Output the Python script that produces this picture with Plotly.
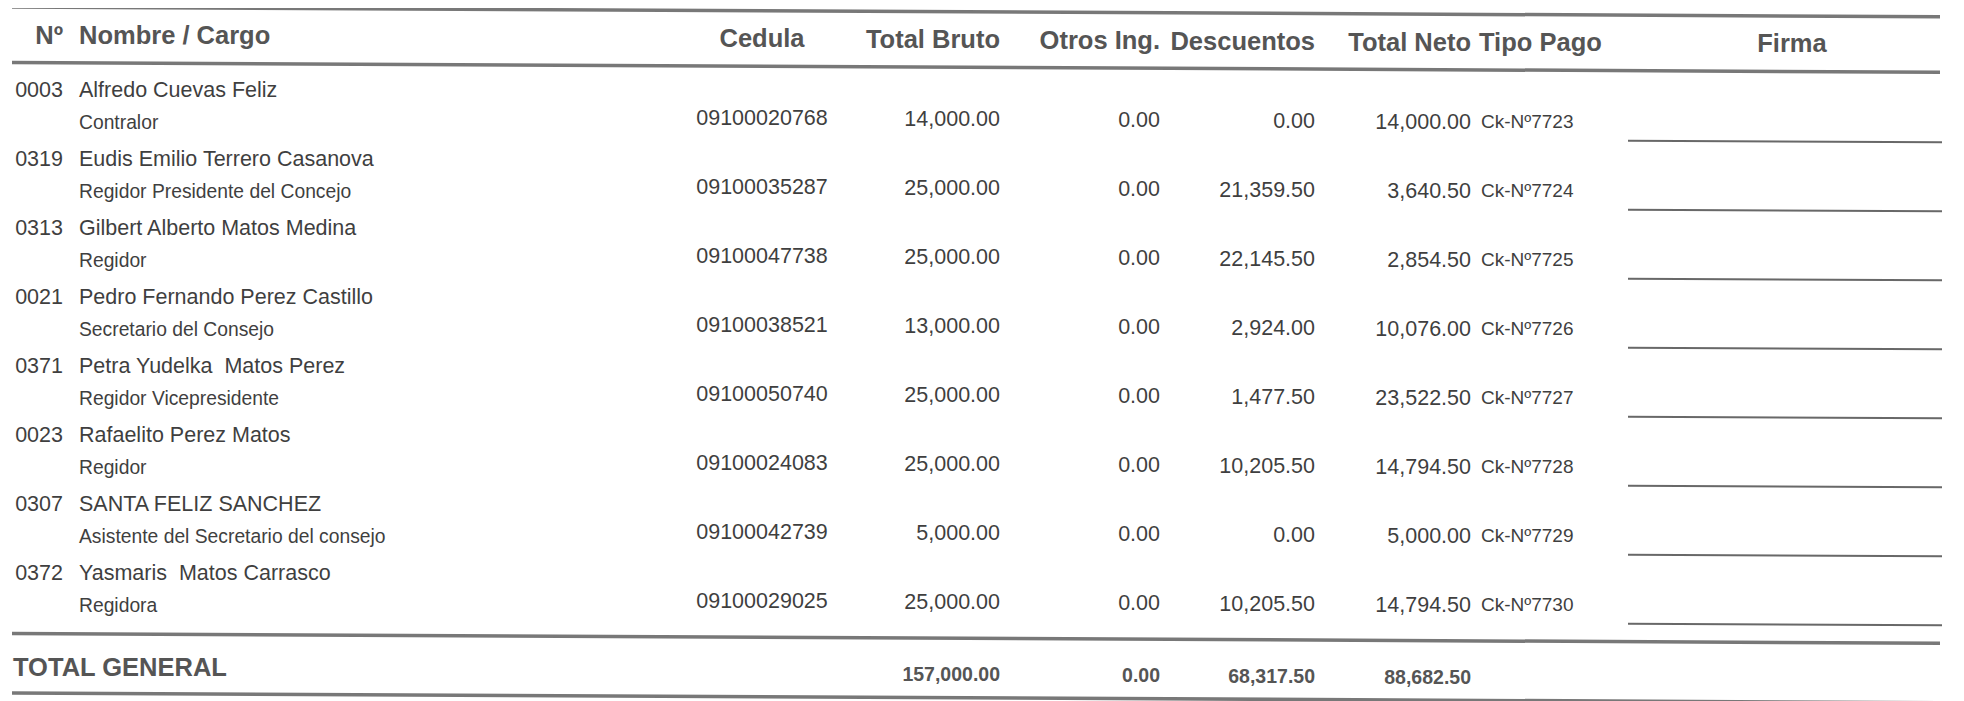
import plotly.graph_objects as go

# ---------------- data ----------------
numeros = ["0003", "0319", "0313", "0021", "0371", "0023", "0307", "0372"]
nombres = [
    "Alfredo Cuevas Feliz",
    "Eudis Emilio Terrero Casanova",
    "Gilbert Alberto Matos Medina",
    "Pedro Fernando Perez Castillo",
    "Petra Yudelka\u00a0 Matos Perez",
    "Rafaelito Perez Matos",
    "SANTA FELIZ SANCHEZ",
    "Yasmaris\u00a0 Matos Carrasco",
]
cargos = [
    "Contralor",
    "Regidor Presidente del Concejo",
    "Regidor",
    "Secretario del Consejo",
    "Regidor Vicepresidente",
    "Regidor",
    "Asistente del Secretario del consejo",
    "Regidora",
]
cedulas = ["09100020768", "09100035287", "09100047738", "09100038521",
           "09100050740", "09100024083", "09100042739", "09100029025"]
total_bruto = [14000.00, 25000.00, 25000.00, 13000.00, 25000.00, 25000.00, 5000.00, 25000.00]
otros_ing = [0.00, 0.00, 0.00, 0.00, 0.00, 0.00, 0.00, 0.00]
descuentos = [0.00, 21359.50, 22145.50, 2924.00, 1477.50, 10205.50, 0.00, 10205.50]
total_neto = [14000.00, 3640.50, 2854.50, 10076.00, 23522.50, 14794.50, 5000.00, 14794.50]
tipo_pago = ["Ck-N\u00ba7723", "Ck-N\u00ba7724", "Ck-N\u00ba7725", "Ck-N\u00ba7726",
             "Ck-N\u00ba7727", "Ck-N\u00ba7728", "Ck-N\u00ba7729", "Ck-N\u00ba7730"]
encabezados = ["N\u00ba", "Nombre / Cargo", "Cedula", "Total Bruto", "Otros Ing.",
               "Descuentos", "Total Neto", "Tipo Pago", "Firma"]
etiqueta_total = "TOTAL GENERAL"

# ---------------- layout constants ----------------
W, H = 1964, 701
PAGE_OFF = 8             # default body margin of the html page
SLOPE = 0.005            # slight skew of the scanned page
ROW0, ROW_STEP = 91.0, 69.0
NUM_OFF, CARGO_OFF, SIG_OFF = 25.0, 32.5, 41.5
HEADER_Y = 37.0
RULES = [7.0, 62.5, 633.5, 693.0]
TOTAL_Y = 669.5

X_NUM, X_NAME, X_CED = 63, 79, 762
X_BRUTO, X_OTROS, X_DESC, X_NETO, X_TIPO, X_FIRMA = 1000, 1160, 1315, 1471, 1479, 1792
X_TOTAL = 13
SIG_X0, SIG_X1 = 1628, 1942

SANS = "Liberation Sans, Arial, Helvetica, sans-serif"
TXT = "#3f3f3f"
HDR = "#555555"
RULE = "#787878"


def sk(x, y):
    return y + SLOPE * x


def fmt(v):
    return f"{v:,.2f}"


n = len(numeros)
rows = [ROW0 + i * ROW_STEP for i in range(n)]

fig = go.Figure()


def add_text(xs, ys, texts, pos, size, color=TXT, weight="normal"):
    fig.add_trace(go.Scatter(
        x=xs, y=[sk(x, y) for x, y in zip(xs, ys)], text=texts,
        mode="text", textposition=pos, hoverinfo="skip", showlegend=False,
        textfont=dict(family=SANS, size=size, color=color, weight=weight),
        cliponaxis=False,
    ))


# header
hdr_x = [X_NUM, X_NAME, X_CED, X_BRUTO, X_OTROS, X_DESC, X_NETO, X_TIPO, X_FIRMA]
hdr_pos = ["middle left", "middle right", "middle center", "middle left", "middle left",
           "middle left", "middle left", "middle right", "middle center"]
for hx, ht, hp in zip(hdr_x, encabezados, hdr_pos):
    add_text([hx], [HEADER_Y], [ht], hp, 25.5, HDR, "bold")

# body rows
add_text([X_NUM] * n, rows, numeros, "middle left", 21.5)
add_text([X_NAME] * n, rows, nombres, "middle right", 21.5)
add_text([X_NAME] * n, [r + CARGO_OFF for r in rows], cargos, "middle right", 19.3)
ny = [r + NUM_OFF for r in rows]
add_text([X_CED] * n, ny, cedulas, "middle center", 21.5)
add_text([X_BRUTO] * n, ny, [fmt(v) for v in total_bruto], "middle left", 21.5)
add_text([X_OTROS] * n, ny, [fmt(v) for v in otros_ing], "middle left", 21.5)
add_text([X_DESC] * n, ny, [fmt(v) for v in descuentos], "middle left", 21.5)
add_text([X_NETO] * n, ny, [fmt(v) for v in total_neto], "middle left", 21.5)
add_text([X_TIPO + 2] * n, ny, tipo_pago, "middle right", 19)

# totals
add_text([X_TOTAL], [TOTAL_Y], [etiqueta_total], "middle right", 25.5, HDR, "bold")
tot_x = [X_BRUTO, X_OTROS, X_DESC, X_NETO]
tot_v = [sum(total_bruto), sum(otros_ing), sum(descuentos), sum(total_neto)]
add_text(tot_x, [TOTAL_Y + 2] * 4, [fmt(v) for v in tot_v], "middle left", 19.5, HDR, "bold")

# rules
shapes = []
for ry in RULES:
    shapes.append(dict(type="line", xref="x", yref="y", x0=12, x1=1940,
                       y0=sk(12, ry), y1=sk(1940, ry),
                       line=dict(color=RULE, width=3.5)))
# signature lines
for r in rows:
    shapes.append(dict(type="line", xref="x", yref="y", x0=SIG_X0, x1=SIG_X1,
                       y0=sk(SIG_X0, r + SIG_OFF), y1=sk(SIG_X1, r + SIG_OFF),
                       line=dict(color="#686868", width=2)))

# the page body has an 8px margin: shrink the figure by it and shift the ranges,
# so that a data unit equals one page pixel measured from the window corner
fig.update_layout(
    width=W - PAGE_OFF, height=H - PAGE_OFF,
    margin=dict(l=0, r=0, t=0, b=0),
    paper_bgcolor="white", plot_bgcolor="white",
    xaxis=dict(range=[PAGE_OFF, W], visible=False, fixedrange=True),
    yaxis=dict(range=[H, PAGE_OFF], visible=False, fixedrange=True),
    shapes=shapes,
    showlegend=False,
)

fig.write_html("out.html")
